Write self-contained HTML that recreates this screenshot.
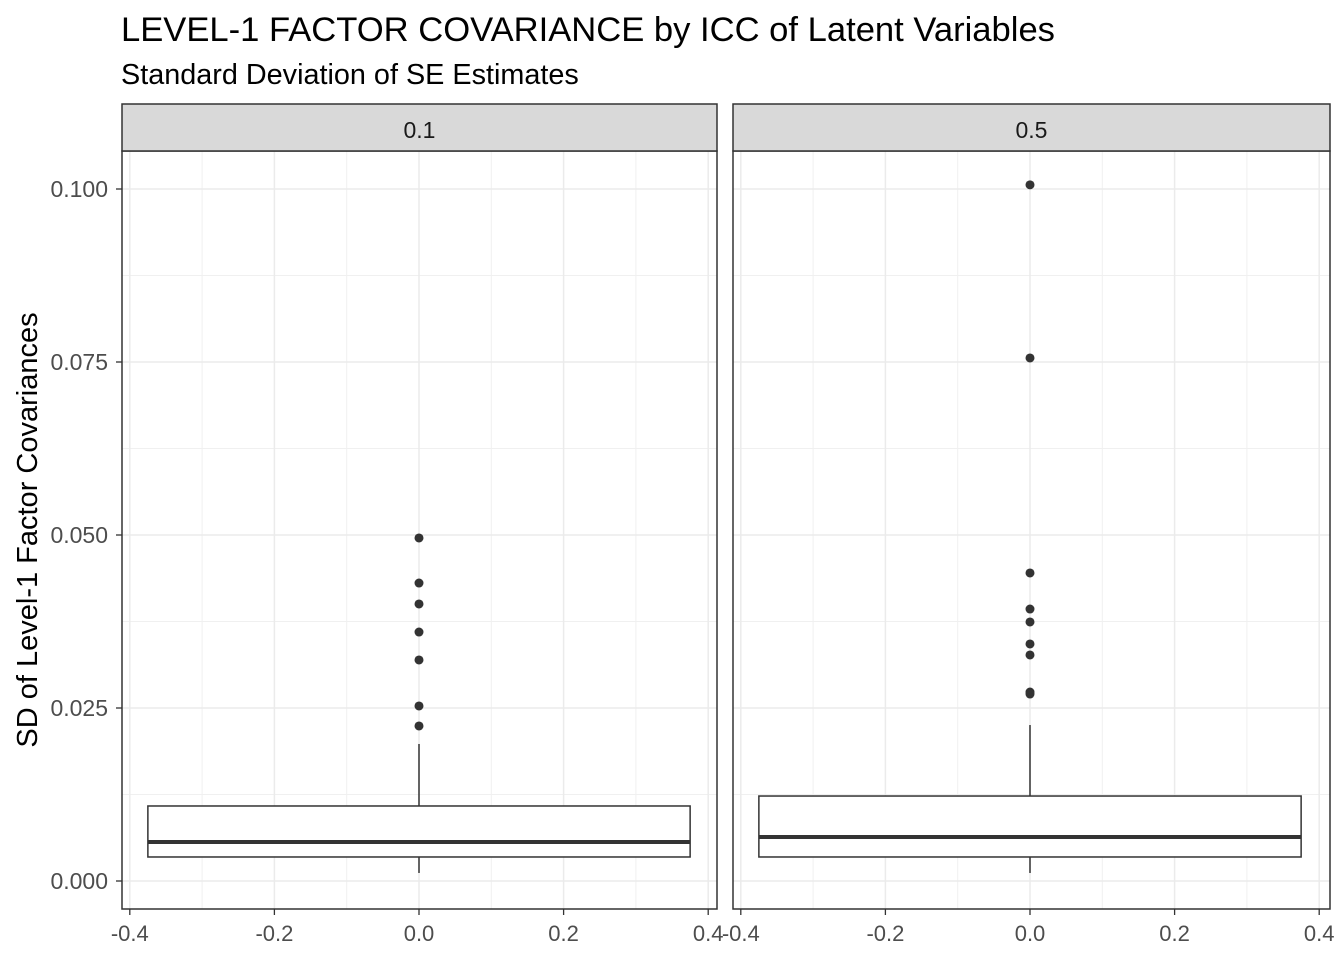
<!DOCTYPE html>
<html><head><meta charset="utf-8"><style>
body{margin:0;background:#fff;font-family:"Liberation Sans",Arial,sans-serif}
svg text{font-family:"Liberation Sans",Arial,sans-serif}
</style></head><body>
<svg id="c" width="1344" height="960" xmlns="http://www.w3.org/2000/svg">
<rect width="1344" height="960" fill="#fff"/>
<text x="121" y="41" font-size="34.6" fill="#000">LEVEL-1 FACTOR COVARIANCE by ICC of Latent Variables</text>
<text x="121" y="84" font-size="28.8" fill="#000">Standard Deviation of SE Estimates</text>
<text transform="translate(37,530) rotate(-90)" text-anchor="middle" font-size="29" fill="#000">SD of Level-1 Factor Covariances</text>
<g id="g"></g>
</svg>
<script>
const panels=["0.1","0.5"];
const q1=[0.00347,0.00347];
const med=[0.00564,0.00636];
const q3=[0.01084,0.01228];
const wLo=[0.00116,0.00116];
const wHi=[0.0198,0.02254];
const outliers=[[0.04957,0.04306,0.04003,0.03598,0.03194,0.02529,0.0224],
[0.1006,0.07558,0.04451,0.0393,0.03743,0.03425,0.03266,0.02731,0.02702]];
const yTicks=[0,0.025,0.05,0.075,0.1];
const yTickLabels=["0.000","0.025","0.050","0.075","0.100"];
const xTicks=[-0.4,-0.2,0,0.2,0.4];
const xTickLabels=["-0.4","-0.2","0.0","0.2","0.4"];
const NS="http://www.w3.org/2000/svg";
const g=document.getElementById('g');
const px=[[122,717],[733,1330]];
const centers=[419,1030];
const scales=[723,723];
const plotTop=151,plotBot=909;
const y=v=>881-v*6920;
function mk(t,a){const e=document.createElementNS(NS,t);for(const k in a)e.setAttribute(k,a[k]);g.appendChild(e);return e;}
panels.forEach((p,i)=>{
 const L=px[i][0],R=px[i][1];const c=centers[i];
 const x=v=>c+v*scales[i];
 for(let k=0;k<4;k++){const v=yTicks[k]+0.0125;const l=mk('line',{x1:L,x2:R,y1:y(v),y2:y(v),stroke:'#f0f0f0','stroke-width':1});}
 [-0.3,-0.1,0.1,0.3].forEach(v=>{const l=mk('line',{x1:x(v),x2:x(v),y1:plotTop,y2:plotBot,stroke:'#f0f0f0','stroke-width':1});});
 yTicks.forEach(v=>{const l=mk('line',{x1:L,x2:R,y1:y(v),y2:y(v),stroke:'#ebebeb','stroke-width':1.5});});
 xTicks.forEach((v,k)=>{const l=mk('line',{x1:x(v),x2:x(v),y1:plotTop,y2:plotBot,stroke:'#ebebeb','stroke-width':1.5});
  const t=mk('line',{x1:x(v),x2:x(v),y1:plotBot,y2:plotBot+6,stroke:'#333','stroke-width':1.3});
  const tx=mk('text',{x:x(v),y:plotBot+32,'text-anchor':'middle','font-size':22,fill:'#4d4d4d'});tx.textContent=xTickLabels[k];});
 let w=mk('line',{x1:c,x2:c,y1:y(wHi[i]),y2:y(q3[i]),stroke:'#333','stroke-width':1.5});
 w=mk('line',{x1:c,x2:c,y1:y(q1[i]),y2:y(wLo[i]),stroke:'#333','stroke-width':1.5});
 const b=mk('rect',{x:x(-0.375),y:y(q3[i]),width:x(0.375)-x(-0.375),height:y(q1[i])-y(q3[i]),fill:'#fff',stroke:'#333','stroke-width':1.5});
 const m=mk('line',{x1:x(-0.375),x2:x(0.375),y1:y(med[i]),y2:y(med[i]),stroke:'#333','stroke-width':4});
 outliers[i].forEach(v=>{const o=mk('circle',{cx:c,cy:y(v),r:4.5,fill:'#333'});});
 const br=mk('rect',{x:L,y:plotTop,width:R-L,height:plotBot-plotTop,fill:'none',stroke:'#333','stroke-width':1.5});
 const s=mk('rect',{x:L,y:104,width:R-L,height:47,fill:'#d9d9d9',stroke:'#333','stroke-width':1.5});
 const st=mk('text',{x:(L+R)/2,y:138,'text-anchor':'middle','font-size':23,fill:'#1a1a1a'});st.textContent=p;
});
yTicks.forEach((v,k)=>{const t=mk('line',{x1:116,x2:122,y1:y(v),y2:y(v),stroke:'#333','stroke-width':1.3});
 const tx=mk('text',{x:108,y:y(v)+8,'text-anchor':'end','font-size':23,fill:'#4d4d4d'});tx.textContent=yTickLabels[k];});
</script>
</body></html>
